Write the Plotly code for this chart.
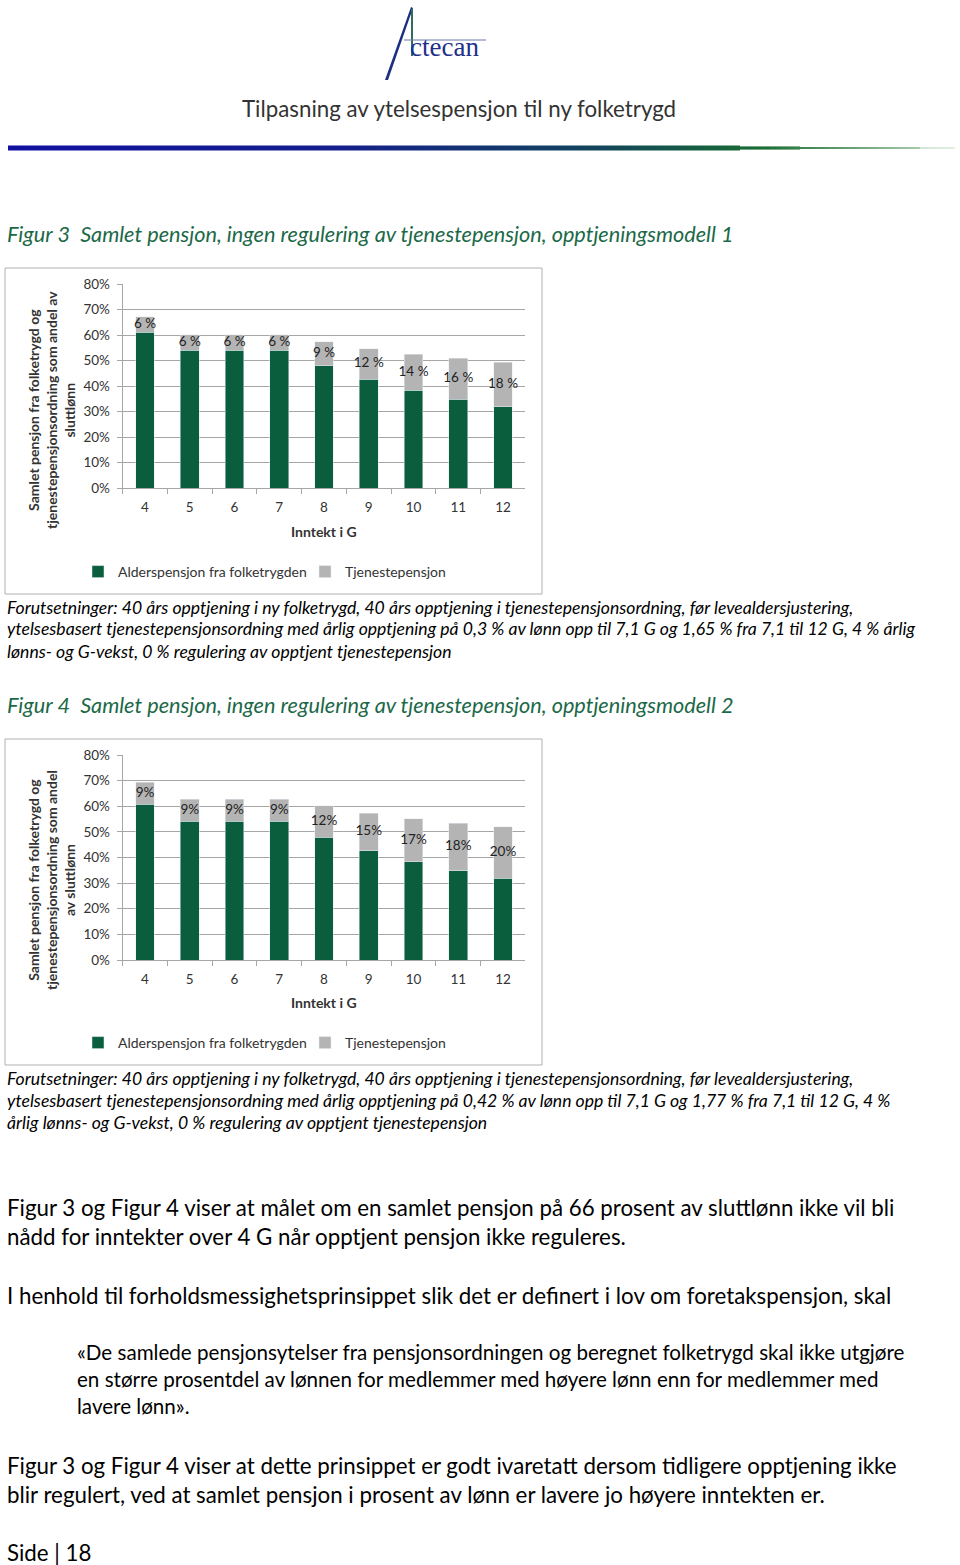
import plotly.graph_objects as go

# ---- data -------------------------------------------------------------
inntekt = ["4", "5", "6", "7", "8", "9", "10", "11", "12"]

# Figur 3 - opptjeningsmodell 1 (percent of final salary)
folketrygd_1 = [61, 54, 54, 54, 48, 42.6, 38.3, 34.8, 31.9]
tjeneste_1 = [6.2, 6.1, 6.1, 6.1, 9.4, 12, 14.2, 16, 17.5]
etiketter_1 = ["6 %", "6 %", "6 %", "6 %", "9 %", "12 %", "14 %", "16 %", "18 %"]

# Figur 4 - opptjeningsmodell 2
folketrygd_2 = [60.8, 54.1, 54.1, 54.1, 47.9, 42.7, 38.4, 34.9, 31.9]
tjeneste_2 = [8.6, 8.7, 8.7, 8.7, 12.2, 14.5, 16.7, 18.5, 20.1]
etiketter_2 = ["9%", "9%", "9%", "9%", "12%", "15%", "17%", "18%", "20%"]

y_ticks = [0, 10, 20, 30, 40, 50, 60, 70, 80]
y_tick_labels = ["0%", "10%", "20%", "30%", "40%", "50%", "60%", "70%", "80%"]
serier = ["Alderspensjon fra folketrygden", "Tjenestepensjon"]

# ---- page geometry ----------------------------------------------------
W, H = 960, 1565
FONT = "Lato"
GREEN = "#0a5e3e"
GREY = "#b4b4b4"
GRID = "#a6a6a6"
TXT = "#333333"


def px(x):
    return x / W


def py(y):
    return 1 - y / H


fig = go.Figure()

charts = [
    dict(ax="", leg="legend", top=284, bottom=488, g=folketrygd_1, t=tjeneste_1, lab=etiketter_1),
    dict(ax="2", leg="legend2", top=755, bottom=960, g=folketrygd_2, t=tjeneste_2, lab=etiketter_2),
]

for c in charts:
    xa, ya = "x" + c["ax"], "y" + c["ax"]
    fig.add_trace(go.Bar(x=inntekt, y=c["g"], name=serier[0], marker_color=GREEN,
                         xaxis=xa, yaxis=ya, legend=c["leg"], hoverinfo="skip"))
    fig.add_trace(go.Bar(x=inntekt, y=c["t"], name=serier[1], marker_color=GREY,
                         xaxis=xa, yaxis=ya, legend=c["leg"], hoverinfo="skip"))
    fig.add_trace(go.Scatter(x=inntekt, y=[g + t / 2 for g, t in zip(c["g"], c["t"])],
                             text=c["lab"], mode="text", showlegend=False,
                             textfont=dict(family=FONT, size=13.5, color="#222"),
                             xaxis=xa, yaxis=ya, cliponaxis=False, hoverinfo="skip"))

    axis_x = dict(domain=[px(122.6), px(525.4)], anchor=ya, type="category",
                  categoryarray=inntekt, showline=True, linecolor=GRID, ticks="outside",
                  tickson="boundaries", ticklen=5, tickcolor=GRID, showgrid=False,
                  tickfont=dict(family=FONT, size=13.5, color=TXT), ticklabelstandoff=7,
                  fixedrange=True, automargin=False)
    axis_y = dict(domain=[py(c["bottom"]), py(c["top"])], anchor=xa, range=[0, 80],
                  tickvals=y_ticks, ticktext=y_tick_labels, showgrid=True, gridcolor=GRID,
                  showline=True, linecolor=GRID, ticks="outside", ticklen=5, tickcolor=GRID,
                  zeroline=False, tickfont=dict(family=FONT, size=13.5, color=TXT),
                  ticklabelstandoff=4, fixedrange=True, automargin=False)
    fig.update_layout(**{"xaxis" + c["ax"]: axis_x, "yaxis" + c["ax"]: axis_y})

legend_style = dict(orientation="h", xanchor="left", yanchor="middle", x=px(78),
                    font=dict(family=FONT, size=14, color=TXT), bgcolor="rgba(0,0,0,0)",
                    entrywidth=182, entrywidthmode="pixels", traceorder="normal")
fig.update_layout(legend=dict(legend_style, y=py(572)),
                  legend2=dict(legend_style, y=py(1043)))

# ---- shapes: chart frames, header rule, logo ----------------------------
shapes = []
for top, bottom in [(268, 594), (739, 1065)]:
    shapes.append(dict(type="rect", xref="paper", yref="paper", x0=px(5), x1=px(542),
                       y0=py(bottom), y1=py(top), line=dict(color="#b0b0b0", width=1)))

# gradient rule under the header
stops = [(8, (16, 16, 160)), (330, (20, 30, 140)), (600, (18, 70, 90)),
         (760, (25, 110, 50)), (955, (200, 225, 200))]


def rule_colour(x):
    for (xa_, ca), (xb_, cb) in zip(stops[:-1], stops[1:]):
        if xa_ <= x <= xb_:
            f = (x - xa_) / (xb_ - xa_)
            return "rgb(%d,%d,%d)" % tuple(round(a + (b - a) * f) for a, b in zip(ca, cb))
    return "rgb(200,225,200)"


def rule_half(x):
    if x < 740:
        return 2.5
    if x < 800:
        return 1.6
    if x < 920:
        return 1.0
    return 0.5


for x0 in range(8, 956, 6):
    x1 = min(x0 + 6, 955)
    h = rule_half(x0)
    shapes.append(dict(type="rect", xref="paper", yref="paper", x0=px(x0), x1=px(x1),
                       y0=py(148 + h), y1=py(148 - h), line=dict(width=0),
                       fillcolor=rule_colour(x0)))

# logo: slanted A stroke + crossbar
shapes.append(dict(type="path", xref="paper", yref="paper",
                   path="M %f %f L %f %f L %f %f L %f %f Z" % (
                       px(385), py(80), px(411), py(7), px(413), py(8), px(388), py(80)),
                   fillcolor="#1c2f80", line=dict(width=0)))
shapes.append(dict(type="line", xref="paper", yref="paper", x0=px(412), x1=px(412),
                   y0=py(56), y1=py(9), line=dict(color="#2f6e5e", width=2)))
shapes.append(dict(type="line", xref="paper", yref="paper", x0=px(404), x1=px(486),
                   y0=py(40), y1=py(40), line=dict(color="#6a7aa8", width=1)))
fig.update_layout(shapes=shapes)

# ---- text ---------------------------------------------------------------
ann = []


def text(s, x, y, size, color="#000", italic=False, bold=False, xanchor="left", angle=0,
         family=FONT):
    ann.append(dict(text=s, x=px(x), y=py(y), xref="paper", yref="paper", showarrow=False,
                    xanchor=xanchor, yanchor="middle", textangle=angle, align="center",
                    font=dict(family=family, size=size, color=color,
                              style="italic" if italic else "normal",
                              weight="bold" if bold else "normal")))


text("ctecan", 444, 47, 27, color="#1f2f8a", xanchor="center", family="Liberation Serif")
text("Tilpasning av ytelsespensjon til ny folketrygd", 459, 108, 22.3, color=TXT,
     xanchor="center")

fig_green = "#1b6947"
text("Figur 3\u00a0\u00a0Samlet pensjon, ingen regulering av tjenestepensjon, opptjeningsmodell 1",
     5, 234, 21.7, color=fig_green, italic=True)
text("Figur 4\u00a0\u00a0Samlet pensjon, ingen regulering av tjenestepensjon, opptjeningsmodell 2",
     5, 705, 21.7, color=fig_green, italic=True)

ytitle_1 = "Samlet pensjon fra folketrygd og<br>tjenestepensjonsordning som andel av<br>sluttlønn"
ytitle_2 = "Samlet pensjon fra folketrygd og<br>tjenestepensjonsordning som andel<br>av sluttlønn"
text(ytitle_1, 51, 410, 14, color=TXT, bold=True, xanchor="center", angle=-90)
text(ytitle_2, 51, 880, 14, color=TXT, bold=True, xanchor="center", angle=-90)
text("Inntekt i G", 324, 531, 14, color=TXT, bold=True, xanchor="center")
text("Inntekt i G", 324, 1002, 14, color=TXT, bold=True, xanchor="center")

fot_1 = [
    "Forutsetninger: 40 års opptjening i ny folketrygd, 40 års opptjening i tjenestepensjonsordning, før levealdersjustering,",
    "ytelsesbasert tjenestepensjonsordning med årlig opptjening på 0,3 % av lønn opp til 7,1 G og 1,65 % fra 7,1 til 12 G, 4 % årlig",
    "lønns- og G-vekst, 0 % regulering av opptjent tjenestepensjon",
]
fot_2 = [
    "Forutsetninger: 40 års opptjening i ny folketrygd, 40 års opptjening i tjenestepensjonsordning, før levealdersjustering,",
    "ytelsesbasert tjenestepensjonsordning med årlig opptjening på 0,42 % av lønn opp til 7,1 G og 1,77 % fra 7,1 til 12 G, 4 %",
    "årlig lønns- og G-vekst, 0 % regulering av opptjent tjenestepensjon",
]
for i, line in enumerate(fot_1):
    text(line, 5, 607 + 22 * i, 17.6, italic=True)
for i, line in enumerate(fot_2):
    text(line, 5, 1078 + 22 * i, 17.6, italic=True)

body = [
    ("Figur 3 og Figur 4 viser at målet om en samlet pensjon på 66 prosent av sluttlønn ikke vil bli", 5, 1207, 22.3),
    ("nådd for inntekter over 4 G når opptjent pensjon ikke reguleres.", 5, 1236, 22.3),
    ("I henhold til forholdsmessighetsprinsippet slik det er definert i lov om foretakspensjon, skal", 5, 1295, 22.3),
    ("«De samlede pensjonsytelser fra pensjonsordningen og beregnet folketrygd skal ikke utgjøre", 75, 1352, 20.6),
    ("en større prosentdel av lønnen for medlemmer med høyere lønn enn for medlemmer med", 75, 1379, 20.6),
    ("lavere lønn».", 75, 1406, 20.6),
    ("Figur 3 og Figur 4 viser at dette prinsippet er godt ivaretatt dersom tidligere opptjening ikke", 5, 1465, 22.3),
    ("blir regulert, ved at samlet pensjon i prosent av lønn er lavere jo høyere inntekten er.", 5, 1494, 22.3),
    ("Side | 18", 5, 1552, 22.3),
]
for s, x, y, size in body:
    text(s, x, y, size)

fig.update_layout(annotations=ann, width=W, height=H, margin=dict(l=0, r=0, t=0, b=0),
                  paper_bgcolor="white", plot_bgcolor="white", barmode="stack",
                  bargap=0.58)

# drop the browser's default body margin so the page maps 1:1 onto the window
fig.write_html("out.html", post_script="document.body.style.margin='0';",
               config={"displayModeBar": False})
